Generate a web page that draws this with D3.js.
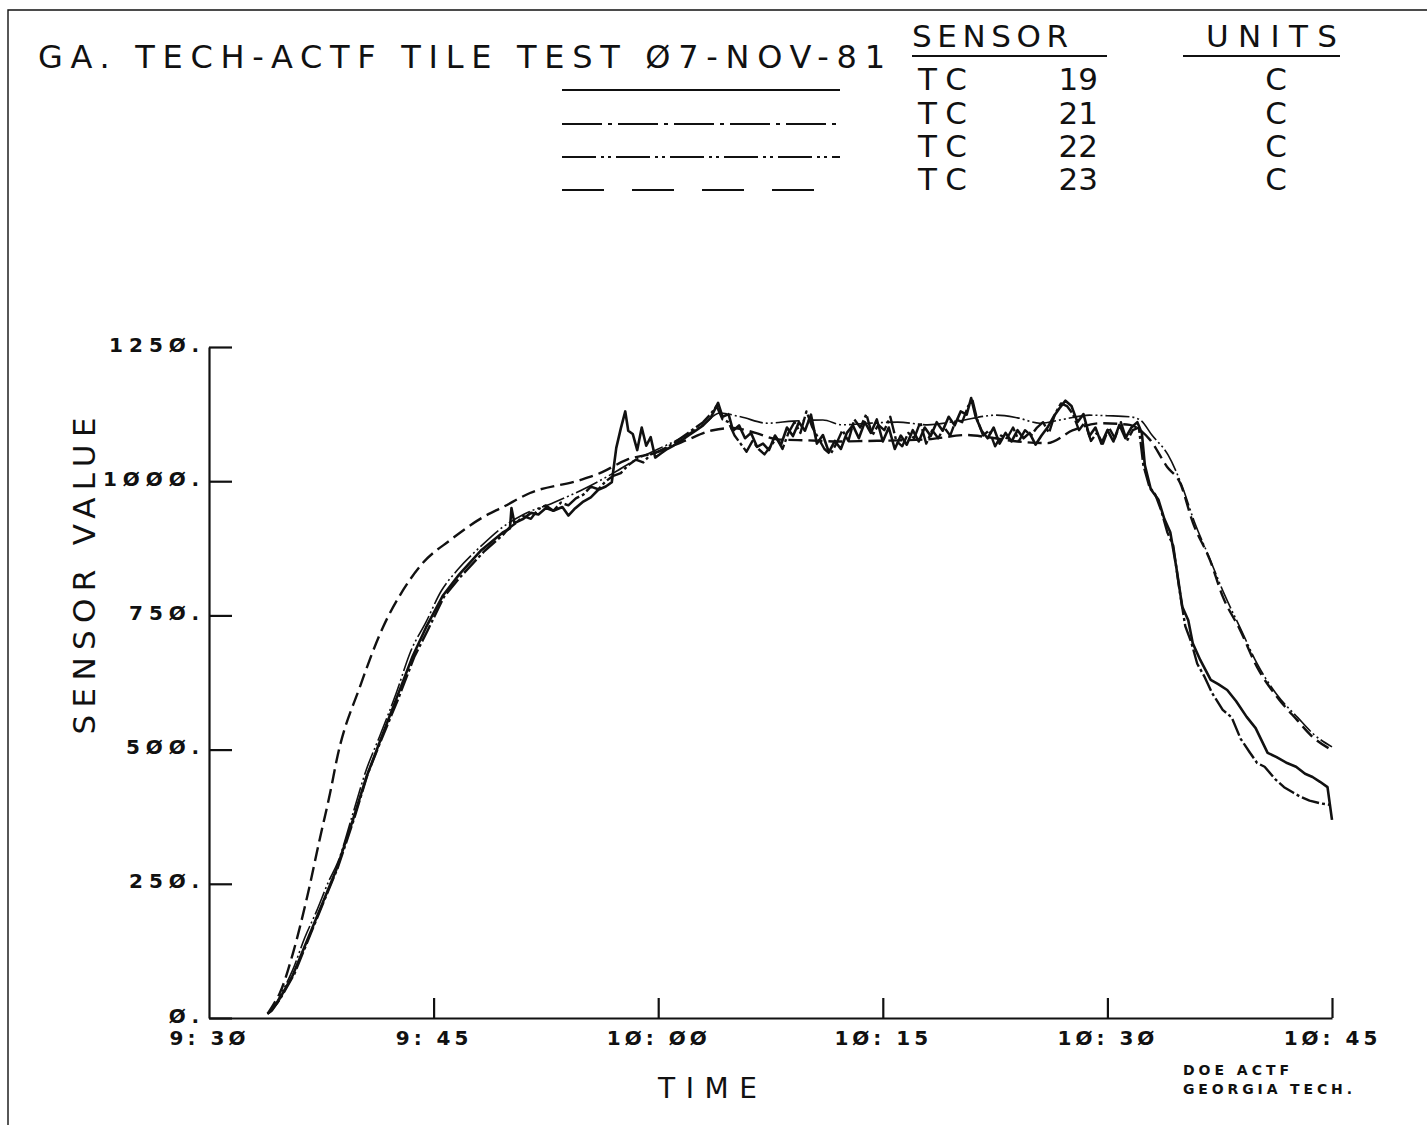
<!DOCTYPE html>
<html>
<head>
<meta charset="utf-8">
<script src="https://cdn.jsdelivr.net/npm/d3@7"></script>
<style>
  body { margin: 0; background: #fff; }
  svg { display: block; }
</style>
</head>
<body>
<script>
// Legend table
const sensorNames = ['TC', 'TC', 'TC', 'TC'];
const sensorNums = ['19', '21', '22', '23'];
const sensorUnits = ['C', 'C', 'C', 'C'];

// Axis ticks (x in minutes after 9:30)
const yTicks = [0, 250, 500, 750, 1000, 1250];
const yTickLabels = ['Ø.', '25Ø.', '5ØØ.', '75Ø.', '1ØØØ.', '125Ø.'];
const xTicks = [0, 15, 30, 45, 60, 75];
const xTickLabels = ['9: 3Ø', '9: 45', '1Ø: ØØ', '1Ø: 15', '1Ø: 3Ø', '1Ø: 45'];

// [minutes after 9:30, sensor value in C]
const tc19 = [
  [3.9, 8], [4.1, 12], [4.6, 30], [5.6, 80], [7.2, 188], [8.5, 276], [9.6, 368], [10.5, 448],
  [11.4, 514], [12.5, 594], [13.6, 674], [14.5, 728], [15.6, 786], [16.7, 826], [18.2, 872],
  [19.6, 904], [20.1, 912], [20.2, 950], [20.4, 922], [21.0, 930], [21.5, 941], [22.0, 938],
  [22.5, 950], [23.0, 945], [23.6, 952], [24.0, 936], [24.4, 948], [25.0, 962], [25.5, 970],
  [26.0, 984], [26.5, 990], [26.9, 998], [27.2, 1062], [27.5, 1098], [27.8, 1130], [28.0, 1094],
  [28.3, 1088], [28.6, 1058], [28.9, 1100], [29.2, 1066], [29.5, 1082], [29.8, 1044], [30.2, 1052],
  [30.6, 1060], [31.0, 1066], [31.5, 1075], [32.0, 1085], [32.5, 1094], [33.0, 1104], [33.5, 1118],
  [34.0, 1146], [34.3, 1120], [34.7, 1125], [35.0, 1094], [35.4, 1104], [35.8, 1080], [36.2, 1090],
  [36.6, 1064], [37.0, 1070], [37.4, 1058], [37.8, 1085], [38.2, 1068], [38.6, 1100], [39.0, 1084],
  [39.4, 1110], [39.8, 1094], [40.2, 1124], [40.6, 1070], [41.0, 1086], [41.4, 1054], [41.8, 1075],
  [42.2, 1060], [42.6, 1090], [43.0, 1104], [43.4, 1080], [43.8, 1110], [44.2, 1090], [44.6, 1115],
  [45.0, 1074], [45.4, 1100], [45.8, 1060], [46.2, 1085], [46.6, 1068], [47.0, 1095], [47.4, 1074],
  [47.8, 1100], [48.2, 1084], [48.6, 1110], [49.0, 1094], [49.4, 1120], [49.8, 1104], [50.2, 1130],
  [50.6, 1124], [50.9, 1155], [51.2, 1120], [51.6, 1094], [52.0, 1080], [52.4, 1100], [52.8, 1070],
  [53.2, 1090], [53.6, 1074], [54.0, 1095], [54.4, 1080], [54.8, 1090], [55.2, 1068], [55.6, 1085],
  [56.0, 1100], [56.4, 1120], [56.8, 1136], [57.2, 1150], [57.6, 1140], [58.0, 1110], [58.4, 1125],
  [58.8, 1084], [59.2, 1100], [59.6, 1070], [60.0, 1095], [60.4, 1074], [60.8, 1105], [61.2, 1080],
  [61.6, 1100], [62.0, 1110], [62.3, 1090], [62.5, 1030], [62.9, 985], [63.4, 966], [63.8, 930],
  [64.2, 905], [64.6, 840], [65.0, 766], [65.4, 741], [65.7, 698], [66.2, 667], [66.9, 630],
  [67.4, 622], [68.0, 611], [68.6, 590], [69.3, 561], [69.9, 540], [70.7, 494], [71.3, 486],
  [72.0, 475], [72.6, 468], [73.2, 455], [73.7, 449], [74.2, 440], [74.7, 430], [75.0, 369]
];

const tc21 = [
  [3.9, 8], [4.2, 14], [4.8, 38], [5.7, 82], [7.3, 192], [8.6, 280], [9.7, 372], [10.6, 455],
  [11.5, 518], [12.6, 592], [13.7, 672], [14.6, 722], [15.7, 785], [16.8, 822], [18.4, 870],
  [19.7, 902], [20.0, 912], [20.5, 922], [21.0, 935], [21.5, 930], [22.0, 948], [22.5, 955],
  [23.0, 945], [23.5, 960], [24.0, 955], [24.5, 968], [25.0, 975], [25.5, 990], [26.0, 985],
  [26.5, 1000], [27.0, 1010], [27.5, 1015], [28.0, 1030], [28.5, 1040], [29.0, 1035], [29.5, 1050],
  [30.0, 1055], [30.5, 1062], [31.0, 1070], [31.5, 1080], [32.0, 1090], [32.5, 1100], [33.0, 1110],
  [33.5, 1125], [33.9, 1140], [34.3, 1115], [34.7, 1110], [35.1, 1085], [35.5, 1070], [35.9, 1055],
  [36.3, 1075], [36.7, 1060], [37.1, 1050], [37.5, 1065], [37.9, 1080], [38.3, 1060], [38.7, 1090],
  [39.1, 1110], [39.5, 1090], [39.9, 1130], [40.3, 1100], [40.7, 1080], [41.1, 1060], [41.5, 1050],
  [41.9, 1070], [42.3, 1095], [42.7, 1075], [43.1, 1115], [43.5, 1100], [43.9, 1125], [44.3, 1085],
  [44.7, 1105], [45.1, 1095], [45.5, 1120], [45.9, 1075], [46.3, 1065], [46.7, 1090], [47.1, 1080],
  [47.5, 1110], [47.9, 1070], [48.3, 1095], [48.7, 1080], [49.1, 1100], [49.5, 1085], [49.9, 1115],
  [50.3, 1110], [50.7, 1140], [51.0, 1150], [51.3, 1115], [51.7, 1085], [52.1, 1095], [52.5, 1065],
  [52.9, 1085], [53.3, 1080], [53.7, 1100], [54.1, 1075], [54.5, 1095], [54.9, 1085], [55.3, 1100],
  [55.7, 1110], [56.1, 1090], [56.5, 1125], [56.9, 1145], [57.3, 1140], [57.7, 1125], [58.1, 1095],
  [58.5, 1110], [58.9, 1075], [59.3, 1090], [59.7, 1070], [60.1, 1100], [60.5, 1080], [60.9, 1110],
  [61.3, 1075], [61.7, 1095], [62.1, 1100], [62.4, 1030], [62.8, 990], [63.2, 975], [63.6, 945],
  [64.0, 905], [64.4, 880], [64.8, 800], [65.2, 730], [65.6, 700], [66.0, 660], [66.5, 635],
  [67.0, 605], [67.7, 574], [68.3, 560], [68.9, 520], [69.5, 495], [70.0, 475], [70.5, 468],
  [71.2, 445], [71.8, 430], [72.4, 420], [72.9, 412], [73.5, 405], [74.2, 400], [74.9, 397]
];

const tc22 = [
  [3.9, 8], [4.3, 20], [5.0, 55], [5.6, 90], [6.4, 150], [7.2, 200], [8.0, 255], [8.6, 290],
  [9.6, 380], [10.5, 462], [11.4, 525], [12.5, 605], [13.5, 685], [14.5, 738], [15.5, 795],
  [16.6, 835], [18.2, 880], [19.5, 912], [21.0, 938], [23.0, 960], [25.0, 985], [27.0, 1015],
  [28.5, 1040], [30.0, 1060], [31.5, 1080], [33.0, 1105], [34.1, 1127], [35.5, 1120], [37.3, 1108],
  [39.0, 1112], [41.0, 1114], [42.3, 1105], [44.0, 1108], [46.0, 1110], [48.0, 1105], [50.0, 1112],
  [52.6, 1123], [54.0, 1118], [55.5, 1108], [57.0, 1115], [58.8, 1123], [60.0, 1122], [61.5, 1120],
  [62.2, 1114], [63.0, 1085], [64.05, 1049], [65.0, 990], [65.8, 925], [66.8, 858], [67.8, 790],
  [68.9, 725], [70.0, 660], [71.3, 603], [72.7, 560], [73.8, 528], [75.0, 505]
];

const tc23 = [
  [3.94, 9], [4.3, 25], [4.74, 47], [5.61, 121], [6.55, 225], [7.41, 335], [8.08, 418], [8.6, 490],
  [10.08, 617], [11.62, 728], [12.96, 797], [14.29, 848], [16.1, 890], [18.3, 933], [19.64, 952],
  [21.44, 978], [24.78, 1002], [26.11, 1015], [27.92, 1040], [29.92, 1054], [31.92, 1077],
  [33.66, 1095], [35.0, 1099], [36.5, 1090], [38.0, 1078], [40.0, 1076], [42.0, 1074], [44.0, 1075],
  [46.0, 1076], [48.0, 1078], [50.6, 1086], [52.0, 1082], [54.0, 1074], [56.0, 1071], [57.7, 1095],
  [59.5, 1108], [61.5, 1105], [62.2, 1095], [62.85, 1077], [63.98, 1027], [64.85, 997], [65.72, 922],
  [66.85, 853], [67.72, 784], [68.86, 723], [69.99, 654], [71.33, 598], [72.67, 555], [73.73, 523],
  [75.0, 499]
];

const series = [tc19, tc21, tc22, tc23];
const chartDash = [null, '18,3,3,3', '24,3,2,3,2,3', '14,6'];
const legendDash = [null, '40,6,4,6', '34,5,3,4,3,5', '42,28'];
const lineWidth = [2.6, 2.4, 1.6, 2.4];
const noisy = [true, true, false, false];

const w = 1427;
const h = 1125;
const ink = '#111';

const xScale = d3.scaleLinear().domain([0, 75]).range([209, 1332]);
const yScale = d3.scaleLinear().domain([0, 1250]).range([1018, 347]);

const svg = d3
  .select('body')
  .append('svg')
  .attr('width', w)
  .attr('height', h);

svg.append('rect').attr('width', w).attr('height', h).attr('fill', '#fff');

// page frame
svg
  .append('path')
  .attr('d', 'M8,1125 V10 H1427')
  .attr('fill', 'none')
  .attr('stroke', ink)
  .attr('stroke-width', 1.4);

// title
svg
  .append('text')
  .attr('x', 38)
  .attr('y', 68)
  .attr('textLength', 847)
  .attr('lengthAdjust', 'spacing')
  .style('font', '32px "DejaVu Sans"')
  .attr('fill', ink)
  .text('GA. TECH-ACTF  TILE  TEST  Ø7-NOV-81');

// legend header
const head = svg.append('g').style('font', '31px "DejaVu Sans"').attr('fill', ink);
head.append('text').attr('x', 912).attr('y', 47).attr('textLength', 156)
  .attr('lengthAdjust', 'spacing').text('SENSOR');
head.append('text').attr('x', 1206).attr('y', 47).attr('textLength', 131)
  .attr('lengthAdjust', 'spacing').text('UNITS');
head.append('line').attr('x1', 912).attr('x2', 1107).attr('y1', 56).attr('y2', 56)
  .attr('stroke', ink).attr('stroke-width', 2);
head.append('line').attr('x1', 1183).attr('x2', 1340).attr('y1', 56).attr('y2', 56)
  .attr('stroke', ink).attr('stroke-width', 2);

const rowY = [90, 124, 157, 190];
const rows = svg
  .append('g')
  .selectAll('g')
  .data(sensorNums)
  .enter()
  .append('g')
  .attr('transform', (d, i) => 'translate(0,' + rowY[i] + ')');

rows
  .append('line')
  .attr('x1', 562)
  .attr('x2', 840)
  .attr('stroke', ink)
  .attr('stroke-width', 2.2)
  .attr('stroke-dasharray', (d, i) => legendDash[i]);

rows.append('text').attr('x', 918).attr('textLength', 49).attr('lengthAdjust', 'spacing')
  .style('font', '31px "DejaVu Sans"').attr('fill', ink).text((d, i) => sensorNames[i]);
rows.append('text').attr('x', 1098).attr('text-anchor', 'end')
  .style('font', '31px "DejaVu Sans"').attr('fill', ink).text(d => d);
rows.append('text').attr('x', 1276).attr('text-anchor', 'middle')
  .style('font', '31px "DejaVu Sans"').attr('fill', ink).text((d, i) => sensorUnits[i]);

// axes
const yAxis = d3
  .axisLeft(yScale)
  .tickValues(yTicks)
  .tickFormat((d, i) => yTickLabels[i])
  .tickSizeInner(-23)
  .tickSizeOuter(0)
  .tickPadding(4);

const xAxis = d3
  .axisBottom(xScale)
  .tickValues(xTicks)
  .tickFormat((d, i) => xTickLabels[i])
  .tickSizeInner(-20)
  .tickSizeOuter(0)
  .tickPadding(13);

const gy = svg.append('g').attr('transform', 'translate(209,0)').call(yAxis);
const gx = svg.append('g').attr('transform', 'translate(0,1018)').call(xAxis);

[gx, gy].forEach(g => {
  g.selectAll('path, line').attr('stroke', ink).attr('stroke-width', 2.2);
  g.selectAll('text')
    .attr('fill', ink)
    .style('font', 'bold 20px "DejaVu Sans"');
});
gx.selectAll('text').style('letter-spacing', '4px');
gy.selectAll('text').style('letter-spacing', '6px').attr('dy', '0.2em');
gx.select('.tick line').remove();

// axis titles
svg
  .append('text')
  .attr('transform', 'translate(95,576) rotate(-90)')
  .attr('text-anchor', 'middle')
  .attr('textLength', 317)
  .attr('lengthAdjust', 'spacing')
  .style('font', '31px "DejaVu Sans"')
  .attr('fill', ink)
  .text('SENSOR VALUE');

svg
  .append('text')
  .attr('x', 658)
  .attr('y', 1098)
  .attr('textLength', 99)
  .attr('lengthAdjust', 'spacing')
  .style('font', '28px "DejaVu Sans"')
  .attr('fill', ink)
  .text('TIME');

const credit = svg.append('g').style('font', 'bold 14px "DejaVu Sans"').attr('fill', ink);
credit.append('text').attr('x', 1183).attr('y', 1075).attr('textLength', 106)
  .attr('lengthAdjust', 'spacing').text('DOE ACTF');
credit.append('text').attr('x', 1183).attr('y', 1094).attr('textLength', 169)
  .attr('lengthAdjust', 'spacing').text('GEORGIA TECH.');

// data lines
const smoothLine = d3
  .line()
  .x(d => xScale(d[0]))
  .y(d => yScale(d[1]))
  .curve(d3.curveMonotoneX);

const jaggedLine = d3
  .line()
  .x(d => xScale(d[0]))
  .y(d => yScale(d[1]));

svg
  .append('g')
  .selectAll('path')
  .data(series)
  .enter()
  .append('path')
  .attr('d', (d, i) => (noisy[i] ? jaggedLine(d) : smoothLine(d)))
  .attr('fill', 'none')
  .attr('stroke', ink)
  .attr('stroke-width', (d, i) => lineWidth[i])
  .attr('stroke-linejoin', 'round')
  .attr('stroke-dasharray', (d, i) => chartDash[i]);
</script>
</body>
</html>
